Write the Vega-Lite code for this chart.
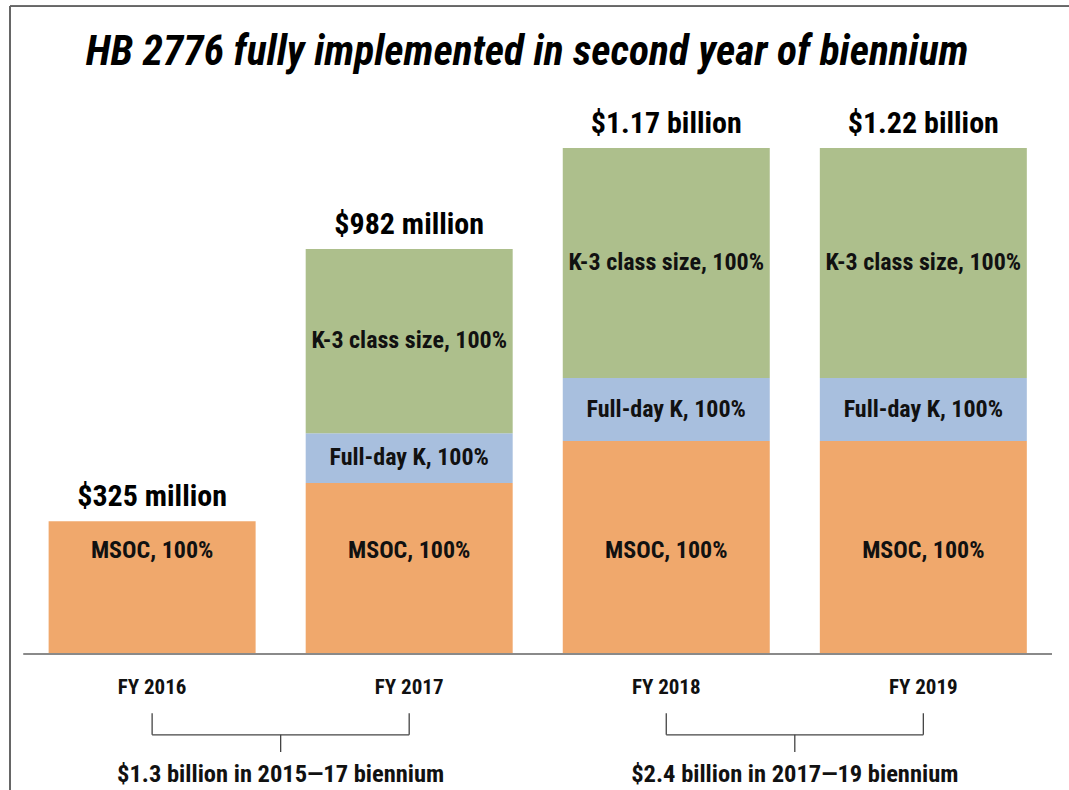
{
  "$schema": "https://vega.github.io/schema/vega-lite/v6.json",
  "width": 1069,
  "height": 790,
  "autosize": "none",
  "padding": 0,
  "background": "#ffffff",
  "config": {"view": {"stroke": null}, "text": {"font": "Roboto Condensed", "fontWeight": "bold", "color": "#111111"}},
  "datasets": {
    "segments": [
      {"fy": 2016, "segment": "MSOC", "label": "MSOC, 100%", "value": 325, "order": 1, "totalLabel": "$325 million"},
      {"fy": 2017, "segment": "MSOC", "label": "MSOC, 100%", "value": 419, "order": 1, "totalLabel": "$982 million"},
      {"fy": 2017, "segment": "Full-day K", "label": "Full-day K, 100%", "value": 122, "order": 2, "totalLabel": "$982 million"},
      {"fy": 2017, "segment": "K-3 class size", "label": "K-3 class size, 100%", "value": 451, "order": 3, "totalLabel": "$982 million"},
      {"fy": 2018, "segment": "MSOC", "label": "MSOC, 100%", "value": 522, "order": 1, "totalLabel": "$1.17 billion"},
      {"fy": 2018, "segment": "Full-day K", "label": "Full-day K, 100%", "value": 154, "order": 2, "totalLabel": "$1.17 billion"},
      {"fy": 2018, "segment": "K-3 class size", "label": "K-3 class size, 100%", "value": 564, "order": 3, "totalLabel": "$1.17 billion"},
      {"fy": 2019, "segment": "MSOC", "label": "MSOC, 100%", "value": 522, "order": 1, "totalLabel": "$1.22 billion"},
      {"fy": 2019, "segment": "Full-day K", "label": "Full-day K, 100%", "value": 154, "order": 2, "totalLabel": "$1.22 billion"},
      {"fy": 2019, "segment": "K-3 class size", "label": "K-3 class size, 100%", "value": 564, "order": 3, "totalLabel": "$1.22 billion"}
    ],
    "years": [
      {"fy": 2016, "name": "FY 2016"},
      {"fy": 2017, "name": "FY 2017"},
      {"fy": 2018, "name": "FY 2018"},
      {"fy": 2019, "name": "FY 2019"}
    ],
    "biennia": [
      {"from": 2016, "to": 2017, "mid": 2016.5, "label": "$1.3 billion in 2015—17 biennium"},
      {"from": 2018, "to": 2019, "mid": 2018.5, "label": "$2.4 billion in 2017—19 biennium"}
    ],
    "heading": [
      {"text": "HB 2776 fully implemented in second year of biennium"}
    ]
  },
  "layer": [
    {
      "data": {"name": "years"},
      "mark": {"type": "rule", "color": "#666666", "strokeWidth": 1.5},
      "encoding": {
        "x": {"datum": 2015.447, "type": "quantitative", "scale": {"domain": [2015.4277, 2019.5472], "nice": false, "zero": false}, "axis": null},
        "y": {"datum": 1587, "type": "quantitative", "scale": {"domain": [-333.2, 1602.3], "nice": false, "zero": false}, "axis": null},
        "y2": {"datum": -400}
      }
    },
    {
      "data": {"name": "years"},
      "mark": {"type": "rule", "color": "#666666", "strokeWidth": 1.5},
      "encoding": {
        "x": {"datum": 2015.447, "type": "quantitative"},
        "x2": {"datum": 2020},
        "y": {"datum": 1587, "type": "quantitative"}
      }
    },
    {
      "data": {"name": "heading"},
      "mark": {"type": "text", "fontSize": 41.5, "fontStyle": "italic", "fontWeight": "bold", "baseline": "alphabetic", "align": "center", "color": "#000000"},
      "encoding": {
        "x": {"datum": 2017.4586, "type": "quantitative"},
        "y": {"datum": 1443, "type": "quantitative"},
        "text": {"field": "text"}
      }
    },
    {
      "data": {"name": "segments"},
      "mark": {"type": "bar", "width": 207, "orient": "vertical"},
      "encoding": {
        "x": {"field": "fy", "type": "quantitative"},
        "y": {"field": "value", "type": "quantitative", "stack": "zero"},
        "order": {"field": "order", "type": "quantitative"},
        "color": {
          "field": "segment",
          "type": "nominal",
          "scale": {"domain": ["MSOC", "Full-day K", "K-3 class size"], "range": ["#F0A86C", "#A8BFDE", "#ADBF8C"]},
          "legend": null
        }
      }
    },
    {
      "data": {"name": "segments"},
      "transform": [
        {"stack": "value", "groupby": ["fy"], "sort": [{"field": "order", "order": "ascending"}], "as": ["y0", "y1"]},
        {"calculate": "datum.segment == 'MSOC' ? 252 : (datum.y0 + datum.y1) / 2", "as": "ymid"}
      ],
      "mark": {"type": "text", "fontSize": 24, "baseline": "middle", "align": "center"},
      "encoding": {
        "x": {"field": "fy", "type": "quantitative"},
        "y": {"field": "ymid", "type": "quantitative"},
        "text": {"field": "label"}
      }
    },
    {
      "data": {"name": "segments"},
      "transform": [
        {"aggregate": [{"op": "sum", "field": "value", "as": "total"}], "groupby": ["fy", "totalLabel"]}
      ],
      "mark": {"type": "text", "fontSize": 30, "baseline": "alphabetic", "align": "center", "dy": -15, "color": "#000000"},
      "encoding": {
        "x": {"field": "fy", "type": "quantitative"},
        "y": {"field": "total", "type": "quantitative"},
        "text": {"field": "totalLabel"}
      }
    },
    {
      "data": {"name": "years"},
      "mark": {"type": "rule", "color": "#8a8a8a", "strokeWidth": 1.5},
      "encoding": {
        "x": {"datum": 2015.5, "type": "quantitative"},
        "x2": {"datum": 2019.5},
        "y": {"datum": 0, "type": "quantitative"}
      }
    },
    {
      "data": {"name": "years"},
      "mark": {"type": "text", "fontSize": 21, "baseline": "middle", "align": "center"},
      "encoding": {
        "x": {"field": "fy", "type": "quantitative"},
        "y": {"datum": -83, "type": "quantitative"},
        "text": {"field": "name"}
      }
    },
    {
      "data": {"name": "biennia"},
      "mark": {"type": "rule", "color": "#444444", "strokeWidth": 1.3},
      "encoding": {
        "x": {"field": "from", "type": "quantitative"},
        "y": {"datum": -145, "type": "quantitative"},
        "y2": {"datum": -198}
      }
    },
    {
      "data": {"name": "biennia"},
      "mark": {"type": "rule", "color": "#444444", "strokeWidth": 1.3},
      "encoding": {
        "x": {"field": "to", "type": "quantitative"},
        "y": {"datum": -145, "type": "quantitative"},
        "y2": {"datum": -198}
      }
    },
    {
      "data": {"name": "biennia"},
      "mark": {"type": "rule", "color": "#444444", "strokeWidth": 1.3},
      "encoding": {
        "x": {"field": "from", "type": "quantitative"},
        "x2": {"field": "to"},
        "y": {"datum": -198, "type": "quantitative"}
      }
    },
    {
      "data": {"name": "biennia"},
      "mark": {"type": "rule", "color": "#444444", "strokeWidth": 1.3},
      "encoding": {
        "x": {"field": "mid", "type": "quantitative"},
        "y": {"datum": -198, "type": "quantitative"},
        "y2": {"datum": -240}
      }
    },
    {
      "data": {"name": "biennia"},
      "mark": {"type": "text", "fontSize": 24.5, "baseline": "alphabetic", "align": "center"},
      "encoding": {
        "x": {"field": "mid", "type": "quantitative"},
        "y": {"datum": -314, "type": "quantitative"},
        "text": {"field": "label"}
      }
    }
  ]
}
